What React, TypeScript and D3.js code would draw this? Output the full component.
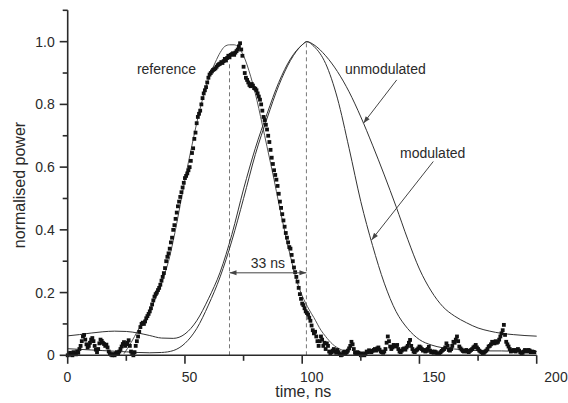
import React from 'react';
import * as d3 from 'd3';

// measured reference pulse, one sample every 0.5 ns starting at t = 0
const refStep = 0.5;
const refPower = [
  0.000, 0.004, 0.008, 0.002, 0.000, 0.010, 0.006, 0.003, 0.012, 0.008,
  0.020, 0.030, 0.045, 0.060, 0.065, 0.050, 0.035, 0.025, 0.030, 0.040,
  0.050, 0.055, 0.045, 0.030, 0.018, 0.010, 0.020, 0.038, 0.050, 0.046,
  0.040, 0.036, 0.030, 0.034, 0.025, 0.012, 0.006, 0.002, 0.000, 0.004,
  0.000, 0.006, 0.010, 0.004, 0.012, 0.020, 0.028, 0.036, 0.042, 0.030,
  0.035, 0.040, 0.048, 0.030, 0.012, 0.004, 0.000, 0.010, 0.030, 0.045,
  0.060, 0.075, 0.090, 0.100, 0.104, 0.100, 0.108, 0.118, 0.125, 0.132,
  0.140, 0.150, 0.162, 0.175, 0.187, 0.195, 0.200, 0.208, 0.215, 0.225,
  0.238, 0.250, 0.262, 0.278, 0.300, 0.314, 0.325, 0.340, 0.360, 0.375,
  0.400, 0.415, 0.435, 0.455, 0.475, 0.490, 0.505, 0.520, 0.535, 0.550,
  0.565, 0.572, 0.580, 0.590, 0.600, 0.620, 0.645, 0.660, 0.690, 0.710,
  0.740, 0.760, 0.770, 0.780, 0.800, 0.820, 0.835, 0.845, 0.855, 0.870,
  0.885, 0.895, 0.900, 0.905, 0.910, 0.912, 0.915, 0.920, 0.925, 0.928,
  0.930, 0.935, 0.932, 0.938, 0.945, 0.940, 0.948, 0.955, 0.950, 0.958,
  0.960, 0.963, 0.958, 0.965, 0.970, 0.975, 0.985, 0.995, 0.975, 0.955,
  0.920, 0.900, 0.885, 0.878, 0.870, 0.862, 0.858, 0.865, 0.860, 0.852,
  0.850, 0.845, 0.835, 0.825, 0.815, 0.800, 0.780, 0.760, 0.750, 0.735,
  0.720, 0.700, 0.680, 0.655, 0.630, 0.610, 0.590, 0.575, 0.560, 0.540,
  0.515, 0.490, 0.470, 0.450, 0.430, 0.410, 0.390, 0.375, 0.360, 0.345,
  0.340, 0.320, 0.300, 0.280, 0.265, 0.250, 0.235, 0.215, 0.195, 0.180,
  0.165, 0.160, 0.150, 0.140, 0.135, 0.130, 0.120, 0.110, 0.095, 0.080,
  0.070, 0.075, 0.060, 0.045, 0.030, 0.045, 0.060, 0.050, 0.030, 0.040,
  0.020, 0.038, 0.030, 0.012, 0.006, 0.010, 0.015, 0.020, 0.012, 0.008,
  0.017, 0.010, 0.004, 0.000, 0.002, 0.008, 0.012, 0.006, 0.010, 0.015,
  0.022, 0.030, 0.043, 0.035, 0.020, 0.008, 0.004, 0.010, 0.008, 0.004,
  0.000, 0.006, 0.002, 0.000, 0.006, 0.012, 0.010, 0.016, 0.012, 0.010,
  0.014, 0.017, 0.020, 0.015, 0.022, 0.025, 0.018, 0.012, 0.010, 0.008,
  0.012, 0.020, 0.040, 0.060, 0.045, 0.028, 0.020, 0.025, 0.033, 0.030,
  0.028, 0.033, 0.020, 0.012, 0.010, 0.015, 0.020, 0.022, 0.018, 0.025,
  0.030, 0.040, 0.049, 0.030, 0.020, 0.012, 0.010, 0.015, 0.018, 0.022,
  0.028, 0.025, 0.020, 0.015, 0.017, 0.012, 0.014, 0.020, 0.027, 0.015,
  0.010, 0.012, 0.008, 0.012, 0.010, 0.006, 0.004, 0.006, 0.010, 0.014,
  0.017, 0.020, 0.025, 0.038, 0.030, 0.017, 0.015, 0.020, 0.030, 0.043,
  0.040, 0.050, 0.060, 0.045, 0.028, 0.022, 0.018, 0.014, 0.012, 0.015,
  0.017, 0.012, 0.010, 0.014, 0.017, 0.020, 0.025, 0.028, 0.033, 0.025,
  0.020, 0.015, 0.012, 0.010, 0.006, 0.008, 0.012, 0.015, 0.020, 0.028,
  0.030, 0.035, 0.043, 0.040, 0.038, 0.045, 0.040, 0.043, 0.050, 0.060,
  0.070, 0.080, 0.097, 0.065, 0.043, 0.035, 0.028, 0.020, 0.012, 0.014,
  0.017, 0.015, 0.012, 0.017, 0.020, 0.015, 0.010, 0.006, 0.008, 0.012,
  0.017, 0.014, 0.012, 0.017, 0.015, 0.010, 0.012, 0.011, 0.010,
];

// fit to the reference pulse
const refFitTime = [24, 27, 30, 33, 35, 38, 40, 43, 45, 48, 50, 53, 55, 58, 60, 63, 65, 67, 69, 71, 73, 75, 78, 80, 83, 85, 88, 90, 93, 95, 98, 100, 103, 105, 108, 110, 113, 116, 120];
const refFitPower = [0.005, 0.04, 0.08, 0.115, 0.145, 0.19, 0.23, 0.3, 0.365, 0.48, 0.56, 0.67, 0.74, 0.83, 0.88, 0.935, 0.965, 0.985, 0.99, 0.99, 0.98, 0.955, 0.89, 0.835, 0.735, 0.665, 0.56, 0.485, 0.38, 0.315, 0.23, 0.19, 0.145, 0.12, 0.08, 0.06, 0.035, 0.02, 0.008];

// transmitted pulses
const pulseTime = [0, 5, 10, 15, 20, 25, 30, 35, 40, 45, 50, 55, 60, 65, 70, 75, 80, 85, 90, 95, 100, 102, 105, 110, 115, 120, 125, 130, 135, 140, 145, 150, 155, 160, 165, 170, 175, 180, 185, 190, 195, 200];
const unmodulated = [0.062, 0.066, 0.071, 0.075, 0.077, 0.076, 0.071, 0.063, 0.055, 0.054, 0.068, 0.11, 0.18, 0.265, 0.385, 0.53, 0.66, 0.77, 0.87, 0.945, 0.99, 1.0, 0.99, 0.955, 0.905, 0.84, 0.76, 0.67, 0.575, 0.475, 0.37, 0.275, 0.205, 0.155, 0.125, 0.104, 0.087, 0.077, 0.07, 0.066, 0.063, 0.061];
const modulated = [0.021, 0.019, 0.017, 0.015, 0.013, 0.011, 0.009, 0.008, 0.009, 0.015, 0.038, 0.085, 0.16, 0.25, 0.365, 0.5, 0.64, 0.755, 0.86, 0.94, 0.99, 1.0, 0.985, 0.93, 0.82, 0.66, 0.49, 0.35, 0.23, 0.14, 0.085, 0.05, 0.033, 0.024, 0.02, 0.017, 0.015, 0.014, 0.014, 0.013, 0.012, 0.012];

const xMajor = [0, 50, 100, 150, 200];
const xMinor = [25, 75, 125, 175];
const yMajor = [0, 0.2, 0.4, 0.6, 0.8, 1.0];
const yMinor = [0.1, 0.3, 0.5, 0.7, 0.9, 1.1];

// annotation anchors, in data units
const refPeakTime = 69;
const pulsePeakTime = 101.8;
const delayLevel = 0.263;

const W = 568;
const H = 403;
const FONT = '"Liberation Sans", Arial, Helvetica, sans-serif';
const INK = '#2a2a2a';

export default function App() {
  const x = d3.scaleLinear().domain([0, 200]).range([67.7, 536.7]);
  const y = d3.scaleLinear().domain([0, 1.1]).range([355.3, 10.3]);
  // the tick numbers in the original are spread slightly wider than the ticks
  const xLabel = d3.scaleLinear().domain([0, 200]).range([67.5, 556]);

  const line = d3.line<[number, number]>()
    .x(d => x(d[0]))
    .y(d => y(d[1]))
    .curve(d3.curveMonotoneX);

  const fitPath = line(refFitTime.map((t, i) => [t, refFitPower[i]]));
  const unmodPath = line(pulseTime.map((t, i) => [t, unmodulated[i]]));
  const modPath = line(pulseTime.map((t, i) => [t, modulated[i]]));

  const pts = refPower.map((v, i) => [i * refStep, v]);
  const ms = 3.8;

  return (
    <svg width={W} height={H} style={{ position: 'absolute', left: 0, top: 0, background: '#fff' }}
      fontFamily={FONT}>
      <defs>
        <marker id="head" viewBox="0 0 10 10" refX="10" refY="5" markerWidth="8" markerHeight="7"
          markerUnits="userSpaceOnUse" orient="auto-start-reverse">
          <path d="M0,1.5 L10,5 L0,8.5 z" fill="#444" />
        </marker>
      </defs>

      {/* dashed markers of the two peaks */}
      <line x1={x(refPeakTime)} x2={x(refPeakTime)} y1={y(0)} y2={y(0.93)}
        stroke="#777" strokeWidth={1} strokeDasharray="4,3" />
      <line x1={x(pulsePeakTime)} x2={x(pulsePeakTime)} y1={y(0)} y2={y(0.995)}
        stroke="#777" strokeWidth={1} strokeDasharray="4,3" />

      {/* fitted curves */}
      <path d={fitPath ?? ''} fill="none" stroke="#555" strokeWidth={1} />
      <path d={unmodPath ?? ''} fill="none" stroke="#333" strokeWidth={1} />
      <path d={modPath ?? ''} fill="none" stroke="#333" strokeWidth={1} />

      {/* measured reference */}
      <g fill="#111">
        {pts.map((p, i) => (
          <rect key={i} x={x(p[0]) - ms / 2} y={y(p[1]) - ms / 2} width={ms} height={ms} />
        ))}
      </g>

      {/* 33 ns delay arrow */}
      <line x1={x(refPeakTime)} x2={x(pulsePeakTime)} y1={y(delayLevel)} y2={y(delayLevel)}
        stroke="#444" strokeWidth={1} markerStart="url(#head)" markerEnd="url(#head)" />
      <text x={x((refPeakTime + pulsePeakTime) / 2)} y={y(delayLevel) - 5} textAnchor="middle"
        fontSize={14} fill={INK}>33 ns</text>

      {/* labels with pointers */}
      <text x={x(29.5)} y={y(0.897)} fontSize={14} fill={INK}>reference</text>
      <text x={x(118.2)} y={y(0.897)} fontSize={14} fill={INK}>unmodulated</text>
      <line x1={x(140.3)} y1={y(0.878)} x2={x(126.1)} y2={y(0.74)} stroke="#444" strokeWidth={1}
        markerEnd="url(#head)" />
      <text x={x(141.7)} y={y(0.628)} fontSize={14} fill={INK}>modulated</text>
      <line x1={x(155.9)} y1={y(0.618)} x2={x(129.6)} y2={y(0.368)} stroke="#444" strokeWidth={1}
        markerEnd="url(#head)" />

      {/* axes */}
      <g stroke={INK} strokeWidth={1.6}>
        <line x1={x(0)} x2={x(0)} y1={y(1.1)} y2={y(0) + 0.8} />
        <line x1={x(0) - 0.8} x2={x(200)} y1={y(0)} y2={y(0)} />
        {yMajor.map(v => <line key={'ym' + v} x1={x(0) - 8} x2={x(0)} y1={y(v)} y2={y(v)} />)}
        {yMinor.map(v => <line key={'yn' + v} x1={x(0) - 5} x2={x(0)} y1={y(v)} y2={y(v)} />)}
        {xMajor.map(v => <line key={'xm' + v} x1={x(v)} x2={x(v)} y1={y(0)} y2={y(0) + 8.5} />)}
        {xMinor.map(v => <line key={'xn' + v} x1={x(v)} x2={x(v)} y1={y(0)} y2={y(0) + 5.5} />)}
      </g>
      <g fontSize={14} fill={INK}>
        {yMajor.map(v => (
          <text key={'yl' + v} x={x(0) - 13} y={y(v) + 5} textAnchor="end">
            {v === 0 ? '0' : d3.format('.1f')(v)}
          </text>
        ))}
        {xMajor.map(v => (
          <text key={'xl' + v} x={xLabel(v)} y={381.5} textAnchor="middle">{v}</text>
        ))}
        <text x={303.3} y={397} textAnchor="middle" fontSize={16}>time, ns</text>
        <text transform={`translate(25,185) rotate(-90)`} textAnchor="middle" fontSize={16}>normalised power</text>
      </g>
    </svg>
  );
}
